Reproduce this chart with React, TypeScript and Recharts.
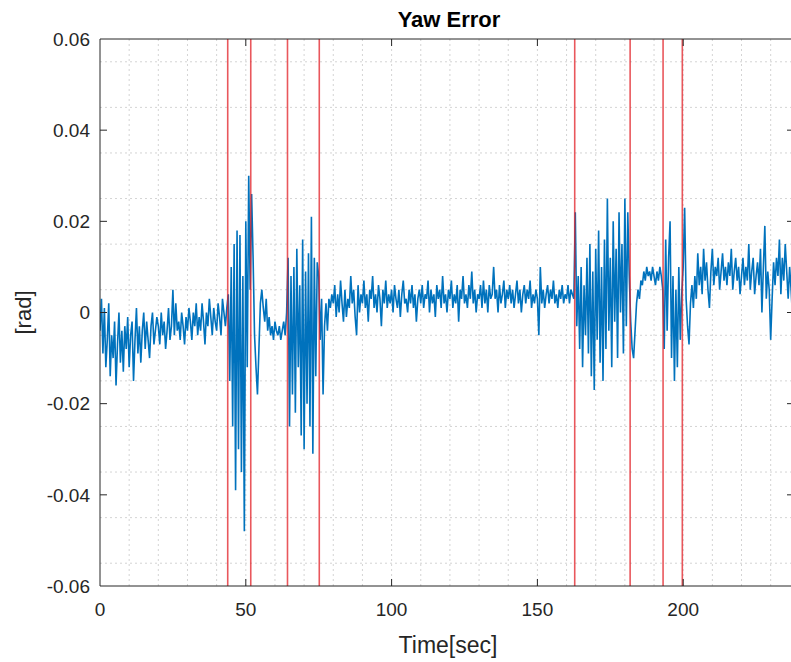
import { LineChart, Line, XAxis, YAxis, CartesianGrid, ReferenceLine } from "recharts";

// yaw error samples, in milliradians, one every SAMPLE_DT seconds starting at t = 0
const SAMPLE_DT = 0.5;
const yawErrorMrad = [
  // 0-10 s
  -4, 3, -9, 1, -12, -6, 2, -14, -5, -10, -2, -16, -7, 0, -11, -4, -13, -3, -8, -1,
  // 10-20
  -12, -5, -2, -15, -6, 1, -9, -3, -11, -4, 0, -8, -2, -6, -10, -3, 0, -7, -4, -1,
  // 20-30
  -3, -7, 0, -5, -2, -8, -4, 1, -6, -3, 5, -5, 2, -4, -2, -6, 0, -3, -7, -1,
  // 30-40
  -4, 1, -2, -6, 0, -3, 2, -5, -1, -4, 2, -2, -7, 0, -3, 3, -1, -5, 1, -2,
  // 40-50
  -4, 2, -1, -5, 3, 0, -3, 1, 4, -15, 10, -25, 15, -39, 18, -30, 17, -35, 8, -48,
  // 50-60
  20, -12, 30, 5, 26, 12, -5, -12, -18, -8, 2, 5, 1, -2, 3, -4, -1, -5, -3, -6,
  // 60-70
  -2, -4, -5, -3, -6, -4, -2, -5, 0, 12, -25, 8, -18, 10, -22, 14, -12, 6, -27, 16,
  // 70-80
  -30, 9, -20, 13, -25, 21, -31, 12, -14, 11, 8, -6, 3, -18, -3, 2, -4, 3, 1, 4,
  // 80-90
  2, 6, -1, 4, 0, 7, 2, -2, 5, -1, 3, 1, 8, 2, 5, -1, -5, 6, 0, 4,
  // 90-100
  2, 7, 1, 4, -2, 5, 3, 8, 1, 4, 0, 6, 3, -3, 5, 2, 7, 1, 4, 2,
  // 100-110
  5, 0, 6, 3, 1, 5, -1, 4, 7, 2, 3, 0, 5, 2, 6, 1, 4, -2, 3, 5,
  // 110-120
  2, 6, 1, 4, 3, 7, 0, 5, 2, 4, -1, 6, 3, 5, 1, 8, 2, 4, 0, 5,
  // 120-130
  3, 7, 1, 4, 2, 6, -2, 5, 3, 8, 2, 4, 1, 6, 3, 9, 2, 5, 0, 4,
  // 130-140
  3, 6, 1, 7, 2, 5, 0, 6, 3, 4, 10, 3, 5, 0, 6, 2, 4, 7, 1, 5,
  // 140-150
  3, 6, 2, 5, 1, 4, 7, 2, 5, 0, 4, 6, 2, 5, 3, 7, 1, 4, 2, 5,
  // 150-160
  3, -5, 10, 2, 5, 1, 4, 6, 2, 5, 3, 7, 2, 4, 1, 5, 3, 6, 2, 4,
  // 160-170
  3, 6, 2, 5, 4, 3, 22, -3, 8, -8, 10, -12, 6, -5, 12, -9, 15, -14, 9, -17,
  // 170-180
  14, -6, 18, -11, 10, -15, 16, -8, 25, -4, 12, -12, 20, -2, 14, -10, 22, 0, 15, -9,
  // 180-190
  25, -3, 22, 8, -2, -8, -10, -4, 2, 5, 3, 7, 6, 9, 7, 10, 8, 9, 7, 10,
  // 190-200
  8, 6, 9, 7, 10, 8, 5, -8, 16, -4, 12, 20, -10, 8, -15, 5, -12, 10, -6, 4,
  // 200-210
  10, 23, 3, -3, -7, 2, 6, 1, 8, 3, 13, 6, 10, 4, 14, 7, 11, 5, 1, 9,
  // 210-220
  14, 6, 10, 8, 12, 5, 9, 13, 7, 10, 6, 11, 8, 14, 5, 9, 12, 7, 10, 4,
  // 220-230
  8, 12, 6, 10, 7, 15, 5, 9, 12, 4, 8, 11, 6, 14, 0, 10, 19, 3, 9, 5,
  // 230-238
  -6, 3, 11, 6, 12, 8, 16, 4, 12, 7, 15, 9, 3, 10, 5, -1, 4,
];

// event markers (red vertical lines), seconds
const eventTimes = [43.8, 51.7, 64.3, 75.2, 162.8, 181.8, 193.1, 199.7];

const xTicks = [0, 50, 100, 150, 200];
const yTicks = [-0.06, -0.04, -0.02, 0, 0.02, 0.04, 0.06];
const xGrid = [10, 20, 30, 40, 50, 60, 70, 80, 90, 100, 110, 120, 130, 140, 150, 160, 170, 180, 190, 200, 210, 220, 230];
const yGrid = [
  -0.055, -0.05, -0.045, -0.04, -0.035, -0.03, -0.025, -0.02, -0.015, -0.01, -0.005, 0,
  0.005, 0.01, 0.015, 0.02, 0.025, 0.03, 0.035, 0.04, 0.045, 0.05, 0.055,
];

const X_MAX = 238;
const Y_MIN = -0.06;
const Y_MAX = 0.06;
const TEXT = "#262626";

export default function App() {
  const data = yawErrorMrad.map((v, i) => ({ t: i * SAMPLE_DT, yaw: v / 1000 }));
  // inward tick marks, MATLAB style
  const tx = 2.4;
  const ty = 0.00154;

  return (
    <div
      style={{
        position: "absolute",
        left: 0,
        top: 0,
        width: 791,
        height: 662,
        overflow: "hidden",
        background: "#fff",
        fontFamily: "'Liberation Sans', Arial, sans-serif",
      }}
    >
      <LineChart width={800} height={662} data={data} margin={{ top: 39, right: 6, bottom: 0, left: 0 }}>
        <CartesianGrid
          verticalValues={xGrid}
          horizontalValues={yGrid}
          stroke="#d4d4d4"
          strokeDasharray="2 3"
        />
        <XAxis
          dataKey="t"
          type="number"
          domain={[0, X_MAX]}
          ticks={xTicks}
          allowDataOverflow
          height={76}
          tickSize={0}
          tickMargin={17}
          tickLine={false}
          axisLine={{ stroke: TEXT }}
          tick={{ fill: TEXT, fontSize: 19 }}
        />
        <YAxis
          type="number"
          domain={[Y_MIN, Y_MAX]}
          ticks={yTicks}
          allowDataOverflow
          width={100}
          tickSize={0}
          tickMargin={10}
          tickLine={false}
          axisLine={{ stroke: TEXT }}
          tick={{ fill: TEXT, fontSize: 19 }}
          tickFormatter={(v: number) => (v === 0 ? "0" : v.toFixed(2))}
        />
        <Line
          type="linear"
          dataKey="yaw"
          stroke="#0072bd"
          strokeWidth={1.6}
          dot={false}
          isAnimationActive={false}
        />
        {eventTimes.map((t) => (
          <ReferenceLine key={"ev" + t} x={t} stroke="#e21f26" strokeOpacity={0.75} strokeWidth={1.6} />
        ))}
        <ReferenceLine y={Y_MAX} stroke={TEXT} />
        <ReferenceLine x={X_MAX} stroke={TEXT} />
        {xTicks.slice(1).map((t) => (
          <ReferenceLine key={"bt" + t} segment={[{ x: t, y: Y_MIN }, { x: t, y: Y_MIN + ty }]} stroke={TEXT} />
        ))}
        {xTicks.slice(1).map((t) => (
          <ReferenceLine key={"tt" + t} segment={[{ x: t, y: Y_MAX }, { x: t, y: Y_MAX - ty }]} stroke={TEXT} />
        ))}
        {yTicks.slice(1, -1).map((v) => (
          <ReferenceLine key={"lt" + v} segment={[{ x: 0, y: v }, { x: tx, y: v }]} stroke={TEXT} />
        ))}
        {yTicks.slice(1, -1).map((v) => (
          <ReferenceLine key={"rt" + v} segment={[{ x: X_MAX - tx, y: v }, { x: X_MAX, y: v }]} stroke={TEXT} />
        ))}
      </LineChart>
      <svg width={791} height={662} style={{ position: "absolute", left: 0, top: 0, pointerEvents: "none" }}>
        <text x={449} y={26.5} textAnchor="middle" fontSize={22} fontWeight="bold" fill="#000">
          Yaw Error
        </text>
        <text x={448} y={653} textAnchor="middle" fontSize={23} fill={TEXT}>
          Time[sec]
        </text>
        <text x={31} y={312.5} textAnchor="middle" fontSize={22} fill={TEXT} transform="rotate(-90 31 312.5)">
          [rad]
        </text>
      </svg>
    </div>
  );
}
